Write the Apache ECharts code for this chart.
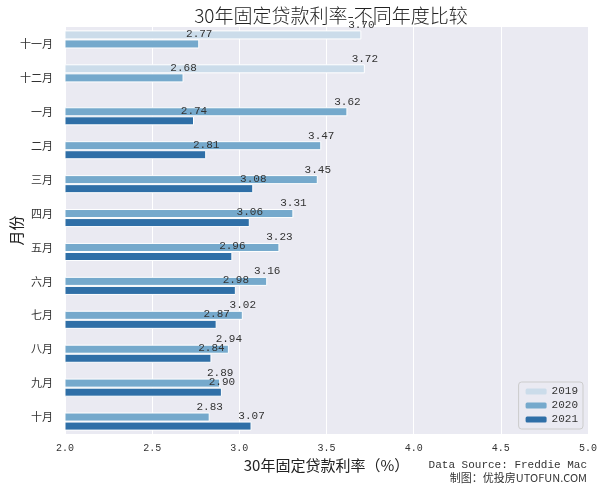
<!DOCTYPE html>
<html><head><meta charset="utf-8">
<script src="https://cdn.jsdelivr.net/npm/echarts@6/dist/echarts.min.js"></script>
<style>html,body{margin:0;padding:0;background:#fff}#c{width:602px;height:489px}</style>
</head><body><div id="c"></div>
<script>
const months = ['十一月','十二月','一月','二月','三月','四月','五月','六月','七月','八月','九月','十月'];
const years = ['2019','2020','2021'];
const v2019 = [3.70, 3.72, null, null, null, null, null, null, null, null, null, null];
const v2020 = [2.77, 2.68, 3.62, 3.47, 3.45, 3.31, 3.23, 3.16, 3.02, 2.94, 2.89, 2.83];
const v2021 = [null, null, 2.74, 2.81, 3.08, 3.06, 2.96, 2.98, 2.87, 2.84, 2.90, 3.07];
const xTicks = [2.0, 2.5, 3.0, 3.5, 4.0, 4.5, 5.0];
const colors = ['#cbdcea', '#75a9cc', '#2f6fa7'];
const numFont = 'Liberation Mono';
const cjkFont = 'Noto Sans CJK SC';

const chart = echarts.init(document.getElementById('c'), null, {renderer: 'canvas'});
const mk = (name, data, i) => ({
  name, type: 'bar', data,
  barGap: '0%', barCategoryGap: '20%',
  itemStyle: {color: colors[i], borderColor: '#ffffff', borderWidth: 1},
  labelLayout: {hideOverlap: false},
  label: {
    show: true, position: ['100%', 0], align: 'center', verticalAlign: 'bottom',
    distance: 0, offset: [0, 1],
    fontFamily: numFont, fontSize: 11, color: '#333',
    formatter: p => p.value == null ? '' : Number(p.value).toFixed(2)
  }
});
chart.setOption({
  animation: false,
  backgroundColor: '#ffffff',
  title: {
    text: '30年固定贷款利率-不同年度比较', left: 326, top: 1, textAlign: 'center',
    textStyle: {fontFamily: cjkFont, fontSize: 19, fontWeight: 300, color: '#222'}
  },
  legend: {
    data: years, orient: 'vertical', right: 19, bottom: 60,
    itemWidth: 21, itemHeight: 6, itemGap: 3,
    backgroundColor: 'rgba(234,234,242,0.85)', borderColor: '#cccccc', borderWidth: 1, borderRadius: 3,
    padding: [4, 5, 4, 7],
    textStyle: {fontFamily: numFont, fontSize: 11, color: '#333'},
    itemStyle: {borderWidth: 0}
  },
  grid: {left: 65, right: 14, top: 27, bottom: 55, show: true, backgroundColor: '#eaeaf2', borderWidth: 0, outerBoundsMode: 'none', containLabel: false},
  xAxis: {
    type: 'value', min: 2.0, max: 5.0, interval: 0.5,
    name: '30年固定贷款利率（%）', nameLocation: 'middle', nameGap: 24, nameMoveOverlap: false,
    nameTextStyle: {fontFamily: cjkFont, fontSize: 15, color: '#222'},
    axisLine: {show: false}, axisTick: {show: false},
    axisLabel: {fontFamily: numFont, fontSize: 10, color: '#333', margin: 9,
      formatter: v => xTicks.includes(v) ? v.toFixed(1) : ''},
    splitLine: {show: true, lineStyle: {color: '#ffffff', width: 1}}
  },
  yAxis: {
    type: 'category', data: months, inverse: true,
    name: '月份', nameLocation: 'middle', nameGap: 41, nameRotate: 90, nameMoveOverlap: false,
    nameTextStyle: {fontFamily: cjkFont, fontSize: 15, color: '#222'},
    axisLine: {show: false}, axisTick: {show: false},
    axisLabel: {fontFamily: cjkFont, fontSize: 11, color: '#333', margin: 12},
    splitLine: {show: false}
  },
  graphic: [
    {type: 'text', right: 15, top: 460, style: {text: 'Data Source: Freddie Mac', font: '11px "Liberation Mono"', fill: '#333', textAlign: 'right'}},
    {type: 'text', right: 15, top: 472, style: {text: '制图：优投房UTOFUN.COM', font: '11px "Noto Sans CJK SC"', fill: '#333', textAlign: 'right'}}
  ],
  series: [mk('2019', v2019, 0), mk('2020', v2020, 1), mk('2021', v2021, 2)]
});
</script></body></html>
